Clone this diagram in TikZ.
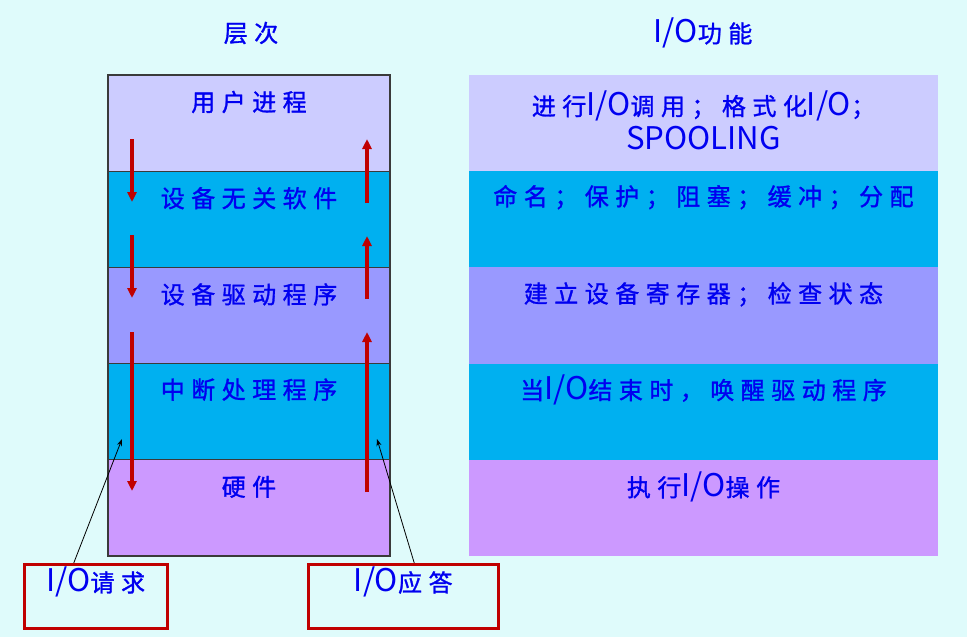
\documentclass[tikz,border=0pt]{standalone}
\usepackage{fontspec}
\setmainfont{Noto Sans CJK SC}
\newfontfamily\cjkspaced[LetterSpace=27, FakeBold=1.2]{Noto Sans CJK SC}
\newfontfamily\iofont[Scale=1.3]{Noto Sans CJK SC}
\newcommand\io{{\iofont I/O}}
\usetikzlibrary{arrows.meta,calc}
\definecolor{bgc}{HTML}{DFFBFB}
\definecolor{lav}{HTML}{CCCCFF}
\definecolor{cyn}{HTML}{00B0F0}
\definecolor{prp}{HTML}{9999FF}
\definecolor{vio}{HTML}{CC99FF}
\definecolor{txt}{HTML}{0000F0}
\definecolor{rd}{HTML}{C00000}
\definecolor{edge}{HTML}{3A3A3A}
\begin{document}
\begin{tikzpicture}[x=1pt,y=-1pt,
  layer/.style={rectangle, inner sep=0pt, outer sep=0pt, anchor=north west, minimum height=96.2pt},
  leftlayer/.style={layer, draw=edge, line width=1.2pt, minimum width=282pt},
  rightlayer/.style={layer, minimum width=469pt},
  lbl/.style={font=\cjkspaced\fontsize{24}{34}\selectfont, text=txt, inner sep=0pt, align=center},
  flow/.style={draw=rd, line width=3.5pt, -{Triangle[width=9pt,length=10pt]}},
  pointer/.style={draw=black, line width=0.8pt, -{Stealth[length=7pt,width=5pt]}},
  callout/.style={rectangle, draw=rd, line width=2.5pt, minimum height=64pt, inner sep=0pt, anchor=north west}
]
\fill[bgc] (0,0) rectangle (967,637);
\useasboundingbox (0,0) rectangle (967,637);

% headers
\node[lbl] (h1) at (251,33) {层次};
\node[lbl] (h2) at (703,33) {\io 功能};

% left stack
\node[leftlayer, fill=lav] (l1) at (108,75) {};
\node[leftlayer, fill=cyn] (l2) at (108,171.2) {};
\node[leftlayer, fill=prp] (l3) at (108,267.4) {};
\node[leftlayer, fill=cyn] (l4) at (108,363.6) {};
\node[leftlayer, fill=vio] (l5) at (108,459.8) {};

\node[lbl] (lt1) at ($(l1.north)+(0,27)$) {用户进程};
\node[lbl] (lt2) at ($(l2.north)+(0,27)$) {设备无关软件};
\node[lbl] (lt3) at ($(l3.north)+(0,27)$) {设备驱动程序};
\node[lbl] (lt4) at ($(l4.north)+(0,26)$) {中断处理程序};
\node[lbl] (lt5) at ($(l5.north)+(0,27)$) {硬件};

% right stack
\node[rightlayer, fill=lav] (f1) at (469,75) {};
\node[rightlayer, fill=cyn] (f2) at (469,171.2) {};
\node[rightlayer, fill=prp] (f3) at (469,267.4) {};
\node[rightlayer, fill=cyn] (f4) at (469,363.6) {};
\node[rightlayer, fill=vio] (f5) at (469,459.8) {};

\node[lbl] (ft1) at ($(f1.north)+(0,45)$) {进行\io 调用；格式化\io ；\\{\iofont SPOOLING}};
\node[lbl] (ft2) at ($(f2.north)+(0,26)$) {命名；保护；阻塞；缓冲；分配};
\node[lbl] (ft3) at ($(f3.north)+(0,27)$) {建立设备寄存器；检查状态};
\node[lbl] (ft4) at ($(f4.north)+(0,26)$) {当\io 结束时，唤醒驱动程序};
\node[lbl] (ft5) at ($(f5.north)+(0,27)$) {执行\io 操作};

% red flow arrows
\coordinate (d1s) at (132,139); \coordinate (d1e) at (132,202);
\coordinate (d2s) at (132,235); \coordinate (d2e) at (132,298);
\coordinate (d3s) at (132,332); \coordinate (d3e) at (132,491);
\coordinate (u1s) at (367,203); \coordinate (u1e) at (367,139);
\coordinate (u2s) at (367,299); \coordinate (u2e) at (367,236);
\coordinate (u3s) at (367,492); \coordinate (u3e) at (367,332);
\draw[flow] (d1s) -- (d1e);
\draw[flow] (d2s) -- (d2e);
\draw[flow] (d3s) -- (d3e);
\draw[flow] (u1s) -- (u1e);
\draw[flow] (u2s) -- (u2e);
\draw[flow] (u3s) -- (u3e);

% callouts
\node[callout, minimum width=143pt] (req) at (23,563) {};
\node[callout, minimum width=190pt] (resp) at (307,563) {};
\node[lbl] (reqt) at ($(req.north)+(0,19)$) {\io 请求};
\node[lbl] (respt) at ($(resp.north)+(0,19)$) {\io 应答};
\coordinate (reqtip) at (122,439);
\coordinate (resptip) at (377,439);
\draw[pointer] ([xshift=-22pt]req.north) -- (reqtip);
\draw[pointer] ([xshift=11pt]resp.north) -- (resptip);
\end{tikzpicture}
\end{document}
